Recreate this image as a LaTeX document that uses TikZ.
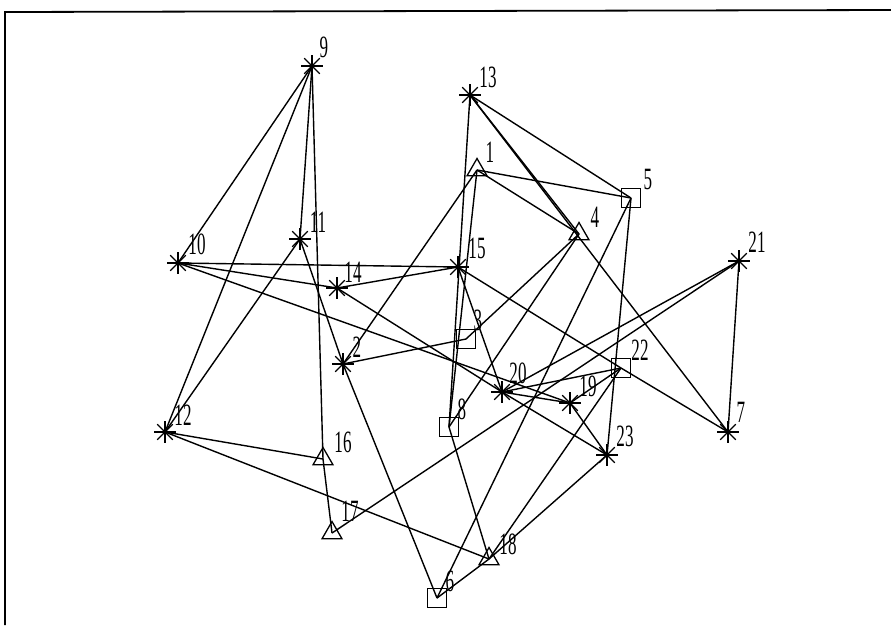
\documentclass[tikz,border=0pt]{standalone}
\usepackage{graphicx}
\usepackage{fontspec}
\setmainfont{Liberation Serif}
\usetikzlibrary{shapes.geometric}
\newcommand{\nm}[1]{\scalebox{0.55}[1]{#1}}
\begin{document}
\begin{tikzpicture}[x=1pt,y=-1pt,
  edge/.style={line width=1.4pt},
  frame/.style={line width=1.8pt},
  asterisk/.style={circle,inner sep=0pt,minimum size=26pt,
    path picture={\foreach \a in {0,45,...,315}{\draw[line width=1.3pt] (path picture bounding box.center) -- ++(\a:11pt);}}},
  tri/.style={regular polygon,regular polygon sides=3,draw,line width=1.3pt,inner sep=0pt,minimum size=23pt},
  sq/.style={rectangle,draw,line width=1.3pt,minimum size=19pt,inner sep=0pt},
  lbl/.style={inner sep=0pt,font=\fontsize{31}{31}\selectfont}
]
\useasboundingbox (0,0) rectangle (891,625);
% frame
\coordinate (fa) at (5,625);
\coordinate (fb) at (5,12);
\coordinate (fc) at (891,10);
\draw[frame] (fa) -- (fb) -- (fc);

% nodes
\node[asterisk] (n9)  at (312,66) {};
\node[asterisk] (n13) at (470,95) {};
\node[tri]      (n1)  at (477,170) {};
\node[sq]       (n5)  at (631,198) {};
\node[tri]      (n4)  at (579,234) {};
\node[asterisk] (n11) at (300,239) {};
\node[asterisk] (n10) at (178,263) {};
\node[asterisk] (n15) at (458,267) {};
\node[asterisk] (n14) at (337,288) {};
\node[asterisk] (n21) at (739,261) {};
\node[sq]       (n3)  at (466,339) {};
\node[asterisk] (n2)  at (343,364) {};
\node[sq]       (n22) at (621,368) {};
\node[asterisk] (n20) at (502,392) {};
\node[asterisk] (n19) at (570,403) {};
\node[sq]       (n8)  at (449,427) {};
\node[asterisk] (n12) at (165,432) {};
\node[asterisk] (n7)  at (728,432) {};
\node[tri]      (n16) at (323,459) {};
\node[asterisk] (n23) at (607,455) {};
\node[tri]      (n17) at (332,533) {};
\node[tri]      (n18) at (489,559) {};
\node[sq]       (n6)  at (437,598) {};

% labels
\node[lbl] (l9)  at (324,47)  {\nm{9}};
\node[lbl] (l13) at (488,77)  {\nm{13}};
\node[lbl] (l1)  at (490,152) {\nm{1}};
\node[lbl] (l5)  at (648,179) {\nm{5}};
\node[lbl] (l4)  at (595,217) {\nm{4}};
\node[lbl] (l11) at (318,222) {\nm{11}};
\node[lbl] (l10) at (197,244) {\nm{10}};
\node[lbl] (l15) at (477,248) {\nm{15}};
\node[lbl] (l14) at (353,272) {\nm{14}};
\node[lbl] (l21) at (757,242) {\nm{21}};
\node[lbl] (l3)  at (478,320) {\nm{3}};
\node[lbl] (l2)  at (357,347) {\nm{2}};
\node[lbl] (l22) at (640,350) {\nm{22}};
\node[lbl] (l20) at (518,373) {\nm{20}};
\node[lbl] (l19) at (588,386) {\nm{19}};
\node[lbl] (l8)  at (462,409) {\nm{8}};
\node[lbl] (l12) at (183,415) {\nm{12}};
\node[lbl] (l7)  at (741,412) {\nm{7}};
\node[lbl] (l16) at (343,442) {\nm{16}};
\node[lbl] (l23) at (625,436) {\nm{23}};
\node[lbl] (l17) at (350,511) {\nm{17}};
\node[lbl] (l18) at (508,544) {\nm{18}};
\node[lbl] (l6)  at (450,581) {\nm{6}};

% edges
\foreach \a/\b in {9/10,9/12,9/11,9/16,11/12,11/2,10/15,10/14,10/19,14/15,14/20,15/20,15/22,
  13/8,13/5,13/4,13/7,1/5,1/4,1/2,1/8,4/3,4/8,2/3,2/6,5/6,5/23,20/19,20/21,20/22,20/23,
  19/22,19/23,22/7,21/7,21/17,12/16,12/18,16/17,8/18,22/18,23/18,6/18}
  \draw[edge] (n\a.center) -- (n\b.center);
\end{tikzpicture}
\end{document}
